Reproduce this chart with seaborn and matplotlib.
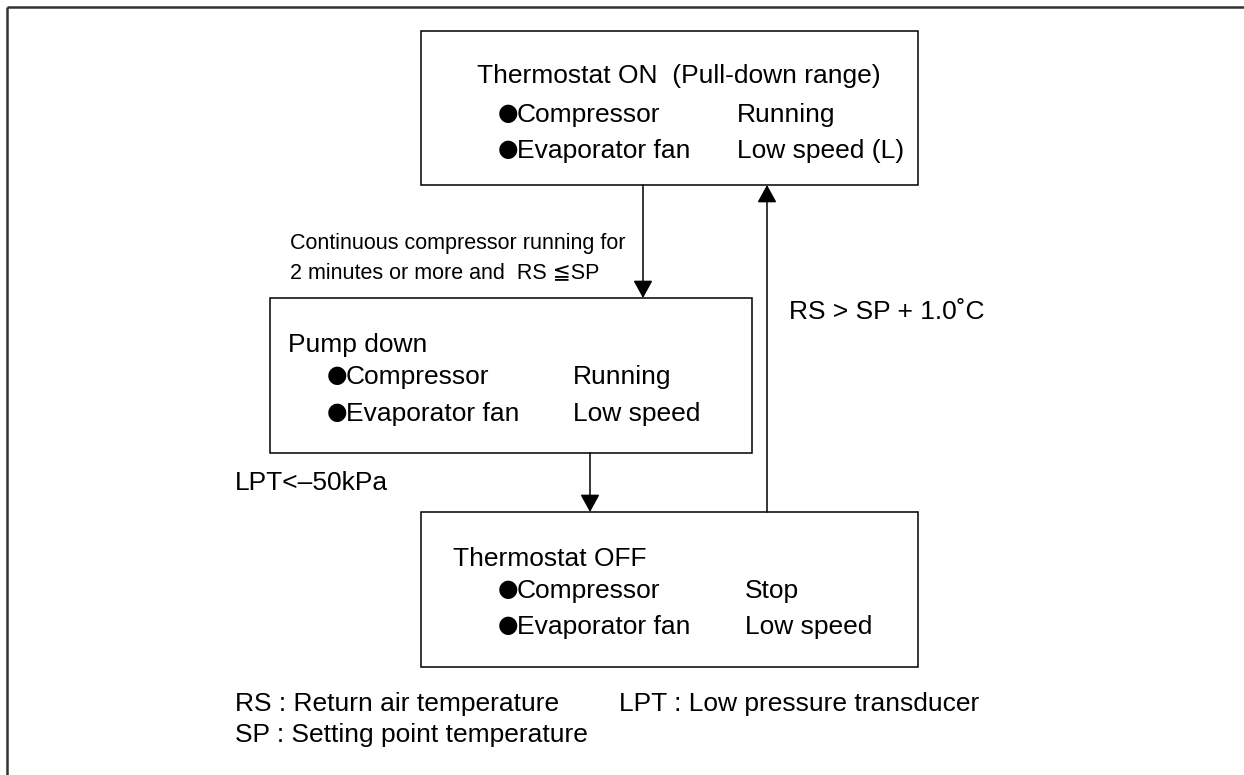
import matplotlib
matplotlib.use("Agg")
import matplotlib.pyplot as plt
from matplotlib.patches import Rectangle
import seaborn as sns

# states and their rows
states = ["Thermostat ON  (Pull-down range)", "Pump down", "Thermostat OFF"]
bullet = "●"
items = ["Compressor", "Evaporator fan"]
compressor = ["Running", "Running", "Stop"]
evap_fan = ["Low speed (L)", "Low speed", "Low speed"]

# transition conditions
cond_on_to_pump = ["Continuous compressor running for", "2 minutes or more and  RS ≦SP"]
cond_pump_to_off = "LPT<–50kPa"
cond_off_to_on = "RS > SP + 1.0˚C"

# abbreviations
notes = ["RS : Return air temperature", "LPT : Low pressure transducer",
         "SP : Setting point temperature"]

# layout (pixels, y down)
boxes = [(421, 31, 918, 185), (270, 298, 752, 453), (421, 512, 918, 667)]
title_x = [477, 288, 453]
item_x = [498, 327, 498]
value_x = [737, 573, 745]
baselines = [(83, 122, 158), (352, 384, 421), (566, 598, 634)]

sns.set_theme(style="white")
plt.rcParams["font.family"] = ["Liberation Sans", "DejaVu Sans"]
plt.rcParams["text.color"] = "black"

W, H = 1244, 775
fig = plt.figure(figsize=(W / 100, H / 100), dpi=100)
ax = fig.add_axes([0, 0, 1, 1])
ax.set_xlim(0, W)
ax.set_ylim(H, 0)
ax.axis("off")

fs = 19

# outer frame (top and left only)
ax.plot([7, W], [7, 7], color="#333333", lw=1.8, solid_capstyle="butt")
ax.plot([7, 7], [7, H], color="#333333", lw=1.8, solid_capstyle="butt")


def txt(x, y, s, size=fs, **kw):
    ax.text(x, y, s, fontsize=size, va="baseline", color="black", **kw)


for i, (x0, y0, x1, y1) in enumerate(boxes):
    ax.add_patch(Rectangle((x0, y0), x1 - x0, y1 - y0, fill=False,
                           edgecolor="black", lw=1.1))
    b0, b1, b2 = baselines[i]
    txt(title_x[i], b0, states[i])
    for row, b in zip(range(2), (b1, b2)):
        # bigger full-width style bullet
        txt(item_x[i], b - 2, bullet, size=17, family=["DejaVu Sans"])
        txt(item_x[i] + 19, b, items[row])
    txt(value_x[i], b1, compressor[i])
    txt(value_x[i], b2, evap_fan[i])


def arrow(x, y_from, y_to):
    ax.annotate("", xy=(x, y_to), xytext=(x, y_from),
                arrowprops=dict(arrowstyle="-|>,head_length=0.4,head_width=0.22",
                                mutation_scale=27, color="black", lw=1.1,
                                shrinkA=0, shrinkB=0))


arrow(643, boxes[0][3], boxes[1][1])
arrow(590, boxes[1][3], boxes[2][1])
arrow(767, boxes[2][1], boxes[0][3])

txt(290, 249, cond_on_to_pump[0], size=15.5)
txt(290, 278, cond_on_to_pump[1], size=15.5)
txt(235, 490, cond_pump_to_off)
txt(789, 319, cond_off_to_on)

txt(235, 711, notes[0])
txt(619, 711, notes[1])
txt(235, 742, notes[2])

fig.savefig("out.png", dpi=100, facecolor="white")
